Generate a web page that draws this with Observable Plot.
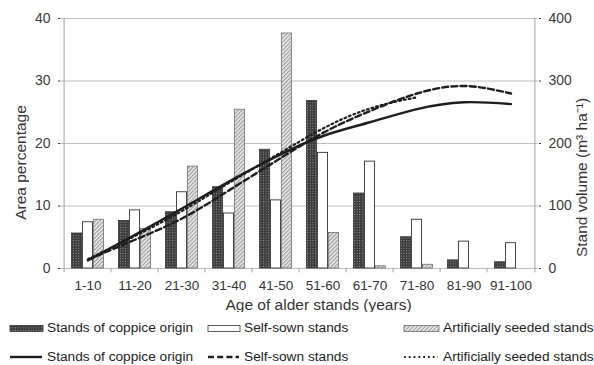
<!DOCTYPE html>
<html><head><meta charset="utf-8">
<script src="https://cdn.jsdelivr.net/npm/d3@7"></script>
<script src="https://cdn.jsdelivr.net/npm/@observablehq/plot@0.6"></script>
<style>
body{margin:0;background:#fff;font-family:"Liberation Sans",Arial,sans-serif;}
#chart{position:relative;width:594px;height:365px;overflow:hidden;}
#legend{position:absolute;top:312px;left:0;width:594px;height:53px;}
.sw{position:absolute;}
.lt{position:absolute;font-size:13.7px;color:#222;white-space:nowrap;line-height:16px;}
</style></head><body><div id="chart"></div>
<script>
const categories = ["1-10","11-20","21-30","31-40","41-50","51-60","61-70","71-80","81-90","91-100"];
const seriesNames = ["Stands of coppice origin","Self-sown stands","Artificially seeded stands"];
const coppiceArea  = [5.6, 7.6, 9.0, 13.0, 19.0, 26.8, 12.0, 5.0, 1.3, 1.0];
const selfSownArea = [7.4, 9.3, 12.2, 8.8, 10.9, 18.5, 17.1, 7.8, 4.3, 4.05];
const seededArea   = [7.8, 6.3, 16.3, 25.4, 37.6, 5.7, 0.35, 0.6, null, null];
const coppiceVolume  = [13, 54, 96, 139, 179, 212, 234, 255, 266, 263];
const selfSownVolume = [14, 46, 80, 125, 172, 217, 252, 280, 292, 280];
const seededVolume   = [15, 52, 92, 137, 181, 224, 256, 274, null, null];
const leftTicks = [0, 10, 20, 30, 40];

const table = categories.map((c, i) => ({
  category: c,
  coppice: coppiceArea[i], selfSown: selfSownArea[i], seeded: seededArea[i],
  coppiceVol: coppiceVolume[i], selfSownVol: selfSownVolume[i], seededVol: seededVolume[i]
}));

const W = 594, H = 312, ML = 60, MR = 56, MT = 18, MB = 44;
const bw = (W - ML - MR) / categories.length;
const barW = 10.9;
const inset = (bw - barW) / 2;

function defsMark() {
  const defs = d3.create("svg:defs");
  const p1 = defs.append("pattern").attr("id", "patCoppice").attr("patternUnits", "userSpaceOnUse")
    .attr("width", 2.6).attr("height", 2.6);
  p1.append("rect").attr("width", 2.6).attr("height", 2.6).attr("fill", "#3c3c3c");
  p1.append("rect").attr("x", 0.9).attr("y", 0.9).attr("width", 0.9).attr("height", 0.9).attr("fill", "#a8a8a8");
  const p2 = defs.append("pattern").attr("id", "patSeeded").attr("patternUnits", "userSpaceOnUse")
    .attr("width", 2.8).attr("height", 2.8).attr("patternTransform", "rotate(45)");
  p2.append("rect").attr("width", 2.8).attr("height", 2.8).attr("fill", "#f2f2f2");
  p2.append("line").attr("x1", 0.7).attr("y1", 0).attr("x2", 0.7).attr("y2", 2.8)
    .attr("stroke", "#8c8c8c").attr("stroke-width", 1.1);
  return defs.node();
}

const lineStyles = [
  {key: "coppiceVol", dash: null, width: 2.4},
  {key: "selfSownVol", dash: "6,3.2", width: 2.4},
  {key: "seededVol", dash: "1.8,3", width: 2.2}
];

const plot = Plot.plot({
  width: W, height: H,
  marginLeft: ML, marginRight: MR, marginTop: MT, marginBottom: MB,
  style: {fontFamily: "'Liberation Sans', Arial, sans-serif", color: "#333", background: "#fff"},
  x: {type: "band", domain: categories, padding: 0},
  y: {domain: [0, 40], clamp: false},
  marks: [
    defsMark,
    Plot.ruleY(leftTicks, {stroke: "#bdbdbd", strokeWidth: 1}),
    Plot.ruleX([categories[0]], {dx: -bw / 2, y1: 0, y2: 40, stroke: "#a0a0a0"}),
    Plot.ruleX([categories[categories.length - 1]], {dx: bw / 2, y1: 0, y2: 40, stroke: "#a0a0a0"}),
    Plot.ruleX(categories, {dx: -bw / 2, y1: 0, y2: -0.7, stroke: "#a0a0a0"}),
    Plot.ruleX([categories[categories.length - 1]], {dx: bw / 2, y1: 0, y2: -0.7, stroke: "#a0a0a0"}),
    Plot.barY(table, {x: "category", y: "coppice", fill: "url(#patCoppice)", stroke: "#333", strokeWidth: 0.8,
      insetLeft: inset, insetRight: inset, dx: -barW}),
    Plot.barY(table, {x: "category", y: "selfSown", fill: "#fff", stroke: "#333", strokeWidth: 0.9,
      insetLeft: inset, insetRight: inset}),
    Plot.barY(table.filter(d => d.seeded != null), {x: "category", y: "seeded", fill: "url(#patSeeded)", stroke: "#6e6e6e", strokeWidth: 0.8,
      insetLeft: inset, insetRight: inset, dx: barW}),
    ...lineStyles.map(s => Plot.line(table.filter(d => d[s.key] != null), {
      x: "category", y: d => d[s.key] / 10, curve: "natural",
      stroke: "#1e1e1e", strokeWidth: s.width, strokeDasharray: s.dash
    })),
    Plot.axisY({anchor: "left", ticks: leftTicks, tickSize: 2, tickPadding: 8, fontSize: 14, label: null, color: "#3a3a3a"}),
    Plot.axisY({anchor: "right", ticks: leftTicks, tickFormat: d => d * 10, tickSize: 2, tickPadding: 8, fontSize: 14, label: null, color: "#3a3a3a"}),
    Plot.axisX({tickSize: 0, tickPadding: 12, fontSize: 13.5, label: null, color: "#333"}),
    Plot.text(["Area percentage"], {text: d => d, frameAnchor: "left", textAnchor: "middle", lineAnchor: "middle",
      rotate: -90, dx: -39, dy: 19, fontSize: 15.5, fill: "#333"}),
    Plot.text(["Stand volume (m³ ha⁻¹)"], {text: d => d, frameAnchor: "right", textAnchor: "middle", lineAnchor: "middle",
      rotate: -90, dx: 44, dy: 34, fontSize: 15.5, fill: "#333"}),
    Plot.text(["Age of alder stands (years)"], {text: d => d, frameAnchor: "bottom", textAnchor: "middle", lineAnchor: "middle",
      dx: 19, dy: 37, fontSize: 15.5, fill: "#333"})
  ]
});

const chart = document.getElementById("chart");
chart.appendChild(plot);

// Legend
const legend = document.createElement("div");
legend.id = "legend";
chart.appendChild(legend);
const rowY = [16, 45];
const swX = [10, 208, 404];
const swW = [33, 32, 35];
const txtX = [47, 244, 443];
const swFill = ["url(#patCoppice)", "#fff", "url(#patSeeded)"];
const swStroke = ["#333", "#333", "#6e6e6e"];
seriesNames.forEach((name, i) => {
  const s = d3.create("svg").attr("class", "sw").attr("width", swW[i] + 2).attr("height", 9)
    .style("left", (swX[i] - 1) + "px").style("top", (rowY[0] - 4.5) + "px");
  s.append("rect").attr("x", 1).attr("y", 1.5).attr("width", swW[i]).attr("height", 6)
    .attr("fill", swFill[i]).attr("stroke", swStroke[i]).attr("stroke-width", 0.8);
  legend.appendChild(s.node());
  const t = document.createElement("span");
  t.className = "lt"; t.textContent = name;
  t.style.left = txtX[i] + "px"; t.style.top = (rowY[0] - 8) + "px";
  legend.appendChild(t);
  const l = d3.create("svg").attr("class", "sw").attr("width", swW[i]).attr("height", 6)
    .style("left", swX[i] + "px").style("top", (rowY[1] - 3) + "px");
  l.append("line").attr("x1", 0).attr("x2", swW[i] - 1).attr("y1", 3).attr("y2", 3)
    .attr("stroke", "#1e1e1e").attr("stroke-width", lineStyles[i].width)
    .attr("stroke-dasharray", lineStyles[i].dash);
  legend.appendChild(l.node());
  const t2 = document.createElement("span");
  t2.className = "lt"; t2.textContent = name;
  t2.style.left = txtX[i] + "px"; t2.style.top = (rowY[1] - 8) + "px";
  legend.appendChild(t2);
});
</script></body></html>
